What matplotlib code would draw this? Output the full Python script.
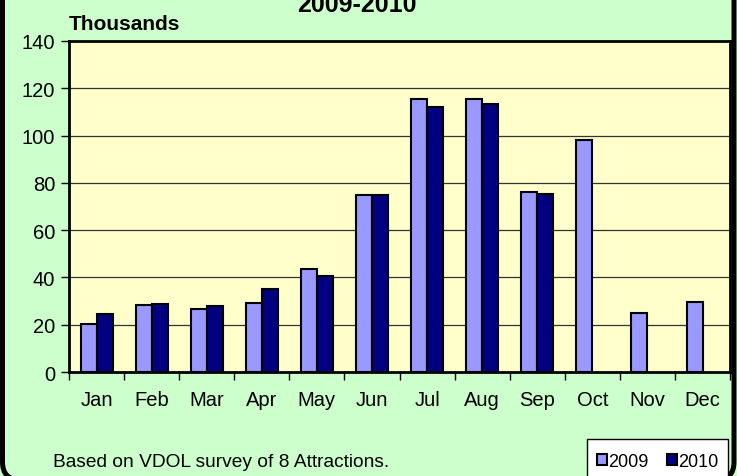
import matplotlib.pyplot as plt
import numpy as np
from matplotlib.patches import FancyBboxPatch, Rectangle
from matplotlib.transforms import IdentityTransform

months = ["Jan", "Feb", "Mar", "Apr", "May", "Jun", "Jul", "Aug", "Sep", "Oct", "Nov", "Dec"]
visits_2009 = [20.3, 28.3, 26.6, 29.2, 43.7, 75.0, 115.5, 115.5, 76.2, 98.2, 25.0, 29.5]
visits_2010 = [24.7, 28.9, 27.9, 35.2, 40.7, 75.0, 112.0, 113.5, 75.2]  # no data Oct-Dec

plt.rcParams["font.family"] = ["Liberation Sans", "DejaVu Sans"]

fig = plt.figure(figsize=(7.37, 4.77), dpi=100)
fig.patch.set_facecolor("#CCFFCC")

# outer chart border in pixels (bottom edge falls just outside the picture)
border = FancyBboxPatch((2.5, -4), 731.5, 600, boxstyle="round,pad=0,rounding_size=18",
                        transform=IdentityTransform(), facecolor="none", edgecolor="black",
                        linewidth=3.6, zorder=0)
fig.patches.append(border)

ax = fig.add_axes([0.0936, 0.218, 0.897, 0.694])
ax.set_facecolor("#FFFFCC")

x = np.arange(len(months))
w = 0.29
ax.bar(x - w / 2, visits_2009, w, color="#9999FF", edgecolor="black", linewidth=1.5,
       label="2009", zorder=3)
ax.bar(x[:len(visits_2010)] + w / 2, visits_2010, w, color="#000080", edgecolor="black",
       linewidth=1.5, label="2010", zorder=3)

ax.set_xlim(-0.5, 11.5)
ax.set_ylim(0, 140)
ax.set_yticks(range(0, 141, 20))
ax.yaxis.grid(True, color="#333333", linewidth=0.9, zorder=1)
ax.set_axisbelow(True)

ax.set_xticks(x)
ax.set_xticklabels(months, fontsize=14.5)
ax.set_xticks(np.arange(-0.5, 12, 1), minor=True)
ax.tick_params(axis="x", which="major", length=0, pad=13)
ax.tick_params(axis="x", which="minor", length=6, width=1, direction="out")
ax.tick_params(axis="y", length=6, width=1, direction="out", labelsize=14.5, pad=4)

for side in ["top", "right", "left", "bottom"]:
    ax.spines[side].set_linewidth(2)
    ax.spines[side].set_color("black")

fig.text(0.0936, 0.928, "Thousands", fontsize=15, fontweight="bold", ha="left", va="bottom")
fig.text(0.4845, 0.975, "2009-2010", fontsize=18, fontweight="bold", ha="center", va="baseline")
fig.text(0.072, 0.012, "Based on VDOL survey of 8 Attractions.", fontsize=13.8, ha="left", va="bottom")

# legend box
fig.patches.append(Rectangle((0.797, -0.01), 0.191, 0.088, transform=fig.transFigure,
                             facecolor="white", edgecolor="black", linewidth=1, zorder=5))
leg = fig.legend(loc="center", bbox_to_anchor=(0.8925, 0.03), ncol=2, frameon=False,
                 fontsize=13, handlelength=0.55, handleheight=0.55, handletextpad=0.1,
                 columnspacing=1.0)

plt.savefig("out.png", dpi=100, facecolor=fig.get_facecolor())
